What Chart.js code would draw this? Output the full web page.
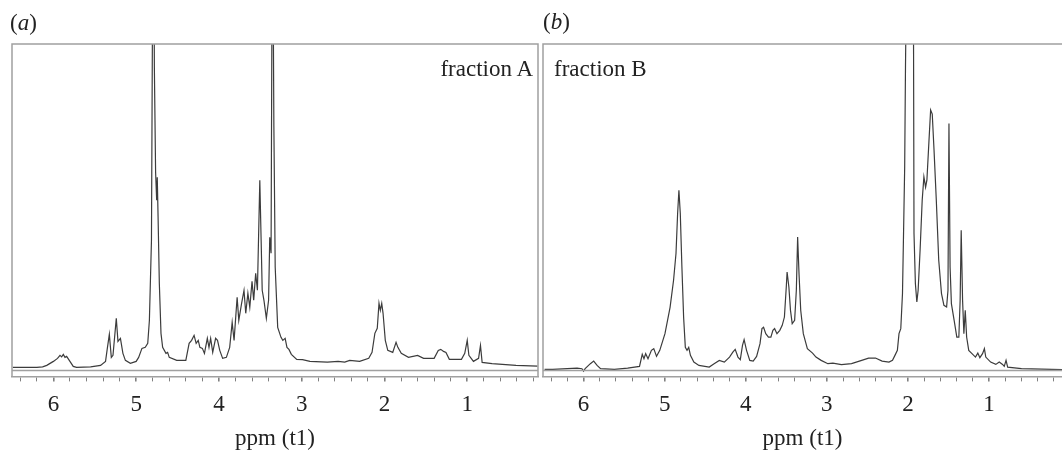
<!DOCTYPE html>
<html>
<head>
<meta charset="utf-8">
<script src="https://cdn.jsdelivr.net/npm/chart.js@4.4.0/dist/chart.umd.min.js"></script>
<style>
    html, body { margin: 0; padding: 0; background: #fff; overflow: hidden; }
    .panel { position: absolute; top: 0; height: 450px; }
    #pa { left: 0; width: 540px; }
    #pb { left: 530px; width: 532px; }
    .txt { position: absolute; font-family: "Liberation Serif", serif; font-size: 23px; line-height: 26px; color: #222; white-space: nowrap; }
</style>
</head>
<body>
<div class="panel" id="pa"><canvas id="chartA" width="540" height="450"></canvas></div>
<div class="panel" id="pb"><canvas id="chartB" width="532" height="450"></canvas></div>
<div class="txt" style="left:10px; top:10px;">(<i>a</i>)</div>
<div class="txt" style="left:543px; top:9px;">(<i>b</i>)</div>
<div class="txt" style="right:529px; top:56px;">fraction A</div>
<div class="txt" style="left:554px; top:56px;">fraction B</div>
<script>
// Espectro A (ppm / intensidade)
const ppmA = [6.49, 6.20, 6.13, 6.08, 6.00, 5.95, 5.92, 5.90, 5.88, 5.86, 5.84, 5.80, 5.76, 5.72, 5.55, 5.43, 5.37, 5.35, 5.324, 5.30,
    5.28, 5.24, 5.22, 5.19, 5.16, 5.13, 5.07, 5.00, 4.97, 4.93, 4.89, 4.86, 4.84, 4.815, 4.80, 4.79, 4.78, 4.765, 4.752, 4.745,
    4.735, 4.72, 4.70, 4.68, 4.64, 4.62, 4.60, 4.51, 4.40, 4.36, 4.33, 4.30, 4.275, 4.25, 4.23, 4.20, 4.175, 4.14, 4.12, 4.10,
    4.075, 4.04, 4.017, 3.99, 3.955, 3.91, 3.87, 3.84, 3.817, 3.78, 3.76, 3.726, 3.697, 3.676, 3.65, 3.627, 3.60, 3.58, 3.556, 3.535,
    3.506, 3.49, 3.477, 3.456, 3.427, 3.40, 3.386, 3.37, 3.353, 3.336, 3.32, 3.29, 3.25, 3.228, 3.20, 3.178, 3.154, 3.125, 3.06, 2.99,
    2.90, 2.69, 2.56, 2.48, 2.42, 2.30, 2.19, 2.15, 2.116, 2.087, 2.066, 2.05, 2.033, 2.017, 1.99, 1.96, 1.90, 1.86, 1.838, 1.797,
    1.71, 1.60, 1.527, 1.40, 1.35, 1.32, 1.286, 1.257, 1.216, 1.07, 1.03, 1.00, 0.98, 0.925, 0.863, 0.84, 0.82, 0.70, 0.41, 0.15];
const intA = [0, 0, 0.5, 2, 6, 9, 12, 10.5, 13, 10, 11, 6, 1, 0, 0.5, 2, 6, 18, 33, 10,
    12, 49, 26, 29, 14, 7, 4, 6, 10, 19, 20, 24, 47, 127, 400, 500, 300, 195, 167, 190,
    150, 84, 34, 20, 14, 15, 10, 7, 7, 24, 27, 32, 24, 27, 20, 19, 14, 29, 20, 29,
    15, 29, 27, 17, 9, 10, 20, 45, 27, 70, 47, 64, 77, 54, 74, 60, 86, 67, 94, 77,
    187, 127, 77, 67, 49, 67, 130, 114, 500, 240, 100, 40, 30, 27, 29, 20, 18, 13, 8, 7.7,
    6, 5.3, 6, 5.3, 7, 6, 9, 15, 34, 39, 64, 57, 64, 54, 27, 17, 15, 25, 20, 14,
    10, 12, 9, 9, 17, 18, 16, 15, 8, 8, 14, 27, 12, 6, 9, 22, 5, 3.7, 2, 1.3];

// Espectro B
const ppmB = [6.48, 6.38, 6.08, 6.02, 6.00, 5.98, 5.916, 5.875, 5.833, 5.79, 5.62, 5.456, 5.31, 5.276, 5.255, 5.234, 5.205, 5.163, 5.134, 5.10,
    5.06, 4.996, 4.933, 4.89, 4.86, 4.84, 4.824, 4.807, 4.787, 4.766, 4.745, 4.724, 4.703, 4.682, 4.64, 4.577, 4.45, 4.39, 4.326, 4.264,
    4.20, 4.159, 4.13, 4.096, 4.067, 4.04, 4.02, 3.99, 3.95, 3.908, 3.866, 3.824, 3.80, 3.78, 3.753, 3.72, 3.69, 3.665, 3.644, 3.615,
    3.58, 3.55, 3.523, 3.50, 3.49, 3.468, 3.448, 3.427, 3.397, 3.376, 3.36, 3.343, 3.322, 3.29, 3.24, 3.176, 3.134, 3.07, 2.987, 2.925,
    2.82, 2.695, 2.57, 2.485, 2.40, 2.318, 2.234, 2.19, 2.16, 2.13, 2.11, 2.088, 2.067, 2.054, 2.04, 2.03, 2.017, 1.975, 1.933, 1.925,
    1.908, 1.89, 1.874, 1.85, 1.824, 1.803, 1.782, 1.766, 1.74, 1.72, 1.70, 1.678, 1.65, 1.62, 1.586, 1.556, 1.523, 1.506, 1.494, 1.48,
    1.464, 1.43, 1.397, 1.372, 1.356, 1.343, 1.326, 1.31, 1.293, 1.276, 1.25, 1.21, 1.167, 1.138, 1.113, 1.08, 1.057, 1.04, 0.98, 0.916,
    0.874, 0.833, 0.812, 0.79, 0.77, 0.60, 0.10];
const intB = [-2, -2, -0.7, -1.3, -3.7, -1.3, 3.7, 6.3, 2, -1.3, -2, -0.7, 1, 13, 8.7, 13.7, 8.7, 17, 18.7, 11,
    17, 33.7, 60, 87, 113.7, 153.7, 177, 153.7, 100, 50, 20, 17, 20, 12, 5.3, 2, 0.3, 3.7, 7, 5.3,
    10.3, 15.3, 18, 10.3, 7.7, 22, 27.7, 17, 7, 6.3, 11, 23.7, 38.7, 40, 33.7, 30.3, 30.3, 37, 38.7, 33.7,
    37, 42, 50.3, 80.3, 95.3, 80.3, 57, 43.7, 47, 77, 130.3, 93.7, 57, 33.7, 18.7, 14.3, 10.3, 7, 3.7, 4.3,
    2.7, 3.7, 7, 9.3, 9.3, 6.3, 5.3, 7, 12, 17, 33.7, 38.7, 73.7, 133.7, 200, 300, 400, 900, 400, 133.7,
    83.7, 65.3, 77, 117, 167, 190.3, 180, 187, 227, 257, 253, 217, 167, 107, 73.7, 62, 60.3, 77, 243.7, 100,
    63.7, 47, 30.3, 30.3, 67, 137, 67, 33.7, 57, 30.3, 17, 13.7, 10.3, 14.3, 9.7, 13.7, 18.7, 10.3, 5.3, 3,
    5.3, 3, 1, 7, 0.3, -1.3, -2.3];

// Marcas do eixo
const tickValues = [6, 5, 4, 3, 2, 1];
const tickLabels = ['6', '5', '4', '3', '2', '1'];
const minorStep = 0.2;

function isMajor(v) {
    return tickValues.some(t => Math.abs(t - v) < 1e-6);
}

// Moldura cinza em volta da área do gráfico
const framePlugin = {
    id: 'frame',
    afterDraw(chart, args, opts) {
        const ctx = chart.ctx;
        const a = chart.chartArea;
        ctx.save();
        ctx.strokeStyle = '#a0a0a0';
        ctx.lineWidth = 1.5;
        ctx.beginPath();
        ctx.moveTo(a.left, a.bottom);
        ctx.lineTo(a.left, a.top);
        ctx.lineTo(a.right, a.top);
        if (opts.closed) ctx.lineTo(a.right, a.bottom);
        ctx.stroke();
        ctx.beginPath();
        ctx.moveTo(a.left, a.bottom - 6);
        ctx.lineTo(a.right, a.bottom - 6);
        ctx.stroke();
        ctx.restore();
    }
};

function makeChart(id, ppm, values, xMin, padLeft, padRight, closed) {
    const ctx = document.getElementById(id).getContext('2d');
    return new Chart(ctx, {
        type: 'line',
        data: {
            datasets: [{
                data: ppm.map((x, i) => ({ x: x, y: values[i] })),
                borderColor: '#3c3c3c',
                borderWidth: 1.2,
                pointRadius: 0,
                tension: 0,
                clip: 0
            }]
        },
        options: {
            responsive: false,
            animation: false,
            layout: { padding: { left: padLeft, right: padRight, top: 44, bottom: 0 } },
            plugins: {
                legend: { display: false },
                tooltip: { enabled: false },
                frame: { closed: closed }
            },
            scales: {
                x: {
                    type: 'linear',
                    reverse: true,
                    min: xMin,
                    max: 6.5,
                    afterBuildTicks: function (scale) {
                        const list = [];
                        for (let v = 0.2; v < 6.5; v += minorStep) {
                            const r = Math.round(v * 10) / 10;
                            if (r > xMin) list.push({ value: r });
                        }
                        scale.ticks = list;
                    },
                    ticks: {
                        autoSkip: false,
                        maxRotation: 0,
                        padding: 10,
                        color: '#222',
                        font: { family: 'Liberation Serif', size: 23 },
                        callback: function (value) {
                            const i = tickValues.findIndex(t => Math.abs(t - value) < 1e-6);
                            return i >= 0 ? tickLabels[i] : '';
                        }
                    },
                    grid: {
                        drawOnChartArea: false,
                        drawTicks: true,
                        tickLength: 5,
                        color: '#808080',
                        lineWidth: c => (c.tick && isMajor(c.tick.value) ? 1.6 : 1)
                    },
                    border: { display: true, color: '#a0a0a0', width: 1.5 },
                    title: {
                        display: true,
                        text: 'ppm (t1)',
                        color: '#222',
                        font: { family: 'Liberation Serif', size: 23, lineHeight: 1.0 },
                        padding: { top: -2, bottom: 0 }
                    }
                },
                y: { display: false, min: -9, max: 323 }
            }
        },
        plugins: [framePlugin]
    });
}

makeChart('chartA', ppmA, intA, 0.145, 12, 2, true);
makeChart('chartB', ppmB, intB, 0.10, 13, 0, false);
</script>
</body>
</html>
